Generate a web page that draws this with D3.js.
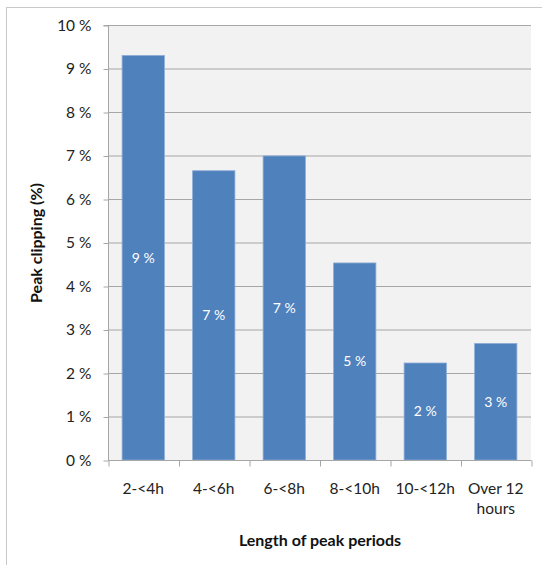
<!DOCTYPE html>
<html><head><meta charset="utf-8">
<script src="https://cdn.jsdelivr.net/npm/d3@7"></script>
<style>body{margin:0;background:#fff}svg{display:block}</style>
</head><body>
<script>
const categories = [["2-<4h"],["4-<6h"],["6-<8h"],["8-<10h"],["10-<12h"],["Over 12","hours"]];
const values = [9.3, 6.65, 6.99, 4.53, 2.23, 2.68];
const valueLabels = ["9 %","7 %","7 %","5 %","2 %","3 %"];
const yTicks = [0,1,2,3,4,5,6,7,8,9,10];
const yTitle = "Peak clipping (%)";
const xTitle = "Length of peak periods";

(function(){
const W = 542, H = 565;
const font = "Lato, 'Open Sans', sans-serif";
const svg = d3.select("body").append("svg").attr("width", W).attr("height", H);
svg.append("rect").attr("x",6.5).attr("y",7.5).attr("width",W).attr("height",H)
  .attr("fill","#fff").attr("stroke","#c8c8c8");

const pL = 108, pR = 531, pT = 25, pB = 460;
const x = d3.scaleBand().domain(d3.range(categories.length)).range([pL,pR]).paddingInner(0.4).paddingOuter(0.2);
const y = d3.scaleLinear().domain([0,10]).range([pB,pT]);

svg.append("rect").attr("x",pL).attr("y",pT).attr("width",pR-pL).attr("height",pB-pT).attr("fill","#f2f2f2");

svg.append("g").selectAll("line").data(yTicks.filter(d=>d>0)).join("line")
  .attr("x1",pL).attr("x2",pR).attr("y1",d=>y(d)+0.5).attr("y2",d=>y(d)+0.5)
  .attr("stroke","#a6a6a6").attr("stroke-width",1);

svg.append("g").selectAll("rect").data(values).join("rect")
  .attr("x",(d,i)=>x(i)).attr("y",d=>y(d)).attr("width",x.bandwidth()).attr("height",d=>pB-y(d))
  .attr("fill","#4f81bd").attr("stroke","#8eadd6").attr("stroke-width",0.8);

svg.append("g").selectAll("text").data(values).join("text")
  .attr("x",(d,i)=>x(i)+x.bandwidth()/2).attr("y",d=>(y(d)+pB)/2)
  .attr("dy","0.35em").attr("text-anchor","middle").attr("fill","#fff")
  .attr("font-family",font).attr("font-size",14).text((d,i)=>valueLabels[i]);

const yAxis = d3.axisLeft(y).tickValues(yTicks).tickFormat(d=>d+" %").tickSize(5).tickPadding(12);
const gy = svg.append("g").attr("transform",`translate(${pL+0.5},0.5)`).call(yAxis);
gy.select(".domain").attr("stroke","#a6a6a6").attr("d",`M-5,${pT}H0V${pB}`);
gy.selectAll(".tick line").attr("stroke","#a6a6a6");
gy.selectAll(".tick text").attr("font-family",font).attr("font-size",15.5).attr("fill","#222");

const xAxis = d3.axisBottom(d3.scaleLinear().domain([0,categories.length]).range([pL,pR]))
  .tickValues(d3.range(categories.length+1)).tickFormat("").tickSize(6);
const gx = svg.append("g").attr("transform",`translate(0.5,${pB+0.5})`).call(xAxis);
gx.select(".domain").attr("stroke","#a6a6a6").attr("d",`M${pL},0H${pR}`);
gx.selectAll(".tick line").attr("stroke","#a6a6a6");

const xl = svg.append("g").selectAll("text").data(categories).join("text")
  .attr("x",(d,i)=>x(i)+x.bandwidth()/2).attr("y",494)
  .attr("text-anchor","middle").attr("font-family",font).attr("font-size",15.5).attr("fill","#222");
xl.each(function(d){
  const t=d3.select(this);
  d.forEach((s,j)=>t.append("tspan").attr("x",t.attr("x")).attr("dy",j?20:0).text(s));
});

svg.append("text").attr("x",320).attr("y",546).attr("text-anchor","middle")
  .attr("font-family",font).attr("font-weight","bold").attr("font-size",16).attr("fill","#111").text(xTitle);
svg.append("text").attr("transform","translate(42,243) rotate(-90)").attr("text-anchor","middle")
  .attr("font-family",font).attr("font-weight","bold").attr("font-size",16).attr("fill","#111").text(yTitle);
})();
</script>
</body></html>
